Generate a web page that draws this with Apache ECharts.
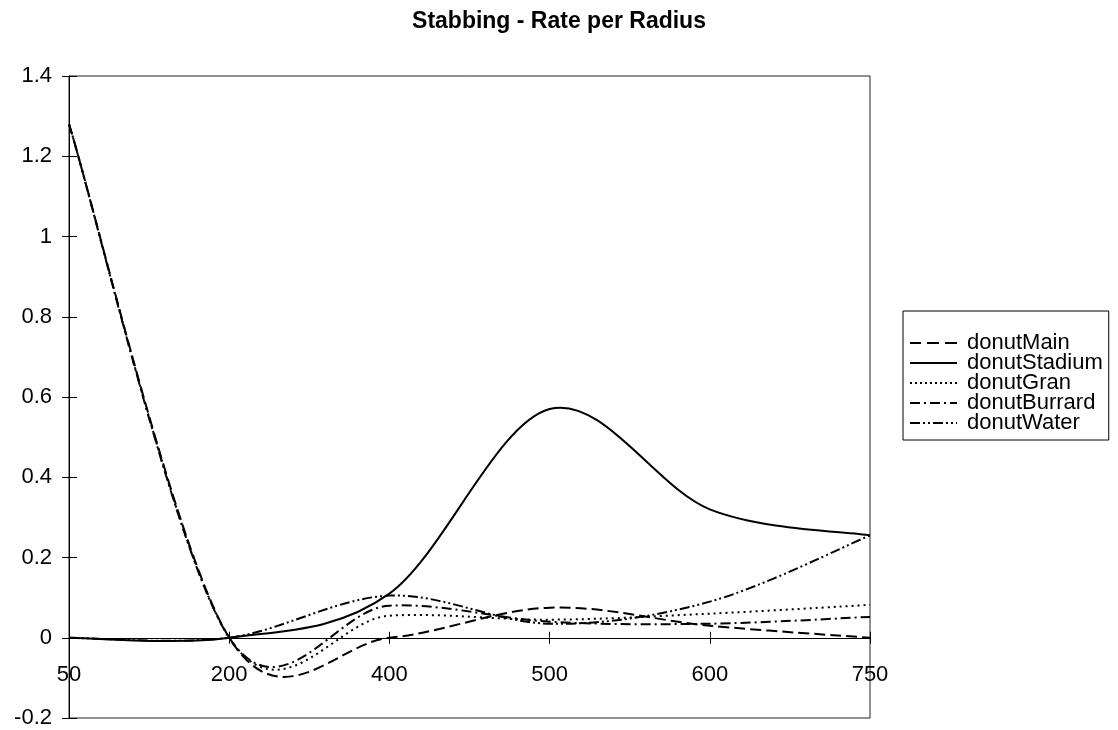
<!DOCTYPE html>
<html>
<head>
<meta charset="utf-8">
<script src="https://cdn.jsdelivr.net/npm/echarts@6/dist/echarts.min.js"></script>
<style>
html,body{margin:0;padding:0;background:#fff;}
#chart{width:1118px;height:730px;}
</style>
</head>
<body>
<div id="chart"></div>
<script>
// Data
const titleText = 'Stabbing - Rate per Radius';
const categories = ['50', '200', '400', '500', '600', '750'];
const donutMain    = [1.28, 0, 0,     0.075, 0.03,  0.0];
const donutStadium = [0,    0, 0.11,  0.57,  0.32,  0.255];
const donutGran    = [1.28, 0, 0.055, 0.045, 0.06,  0.082];
const donutBurrard = [1.28, 0, 0.08,  0.04,  0.035, 0.052];
const donutWater   = [0,    0, 0.105, 0.035, 0.09,  0.255];
const yMin = -0.2, yMax = 1.4, yStep = 0.2;

// line styles (dash patterns) and matching legend icons
const seriesDefs = [
  { name: 'donutMain', data: donutMain, dash: [11, 5],
    icon: 'path://M0,0h11v2h-11z M17,0h12v2h-12z M35,0h12v2h-12z' },
  { name: 'donutStadium', data: donutStadium, dash: null,
    icon: 'path://M0,0h47v2h-47z' },
  { name: 'donutGran', data: donutGran, dash: [2, 4],
    icon: 'path://M0,0h2v2h-2z M5,0h2v2h-2z M10,0h2v2h-2z M15,0h2v2h-2z M20,0h2v2h-2z M25,0h2v2h-2z M30,0h2v2h-2z M35,0h2v2h-2z M40,0h2v2h-2z M45,0h2v2h-2z' },
  { name: 'donutBurrard', data: donutBurrard, dash: [10, 4, 2, 4],
    icon: 'path://M0,0h10v2h-10z M14,0h2v2h-2z M20,0h10v2h-10z M34,0h2v2h-2z M40,0h7v2h-7z' },
  { name: 'donutWater', data: donutWater, dash: [10, 3, 2, 3, 2, 3],
    icon: 'path://M0,0h10v2h-10z M13,0h2v2h-2z M18,0h2v2h-2z M23,0h10v2h-10z M36,0h2v2h-2z M41,0h2v2h-2z M46,0h1v2h-1z' }
];

const font = 'Liberation Sans, Arial, sans-serif';
const chart = echarts.init(document.getElementById('chart'), null, { renderer: 'canvas' });

// Smoothed line like the spreadsheet's: cubic Bezier through the points,
// control points at 1/6 of the neighbour chord, computed in pixel space.
function makeRenderItem(values, dash) {
  return function (params, api) {
    if (params.dataIndex !== 0) return null;
    const pts = values.map((v, i) => api.coord([i, v]));
    const n = pts.length;
    let d = 'M' + pts[0][0] + ',' + pts[0][1];
    for (let i = 0; i < n - 1; i++) {
      const pm = pts[Math.max(i - 1, 0)];
      const p0 = pts[i];
      const p1 = pts[i + 1];
      const pp = pts[Math.min(i + 2, n - 1)];
      const c1x = p0[0] + (p1[0] - pm[0]) / 6;
      const c1y = p0[1] + (p1[1] - pm[1]) / 6;
      const c2x = p1[0] - (pp[0] - p0[0]) / 6;
      const c2y = p1[1] - (pp[1] - p0[1]) / 6;
      d += ' C' + c1x + ',' + c1y + ' ' + c2x + ',' + c2y + ' ' + p1[0] + ',' + p1[1];
    }
    return {
      type: 'path',
      shape: { pathData: d },
      style: { fill: null, stroke: '#000', lineWidth: 2, lineDash: dash || null }
    };
  };
}

const option = {
  backgroundColor: '#ffffff',
  animation: false,
  title: {
    text: titleText,
    left: 'center',
    top: 5,
    textStyle: { fontFamily: font, fontSize: 23, fontWeight: 'bold', color: '#000' }
  },
  legend: {
    orient: 'vertical',
    left: 903,
    top: 311,
    padding: [21, 6, 6, 7],
    borderColor: '#000',
    borderWidth: 1,
    itemWidth: 47,
    itemHeight: 2,
    itemGap: -2,
    textStyle: { fontFamily: font, fontSize: 22, color: '#000', padding: [0, 0, 0, 5] },
    data: seriesDefs.map(s => ({ name: s.name, icon: s.icon }))
  },
  grid: {
    left: 69, right: 248, top: 76, bottom: 12,
    containLabel: false,
    outerBoundsMode: 'none',
    show: true, borderColor: '#222', borderWidth: 1
  },
  xAxis: [
    {
      // category labels, drawn just below the zero line
      type: 'category',
      data: categories,
      boundaryGap: false,
      position: 'bottom',
      axisLine: { show: false, onZero: false },
      axisTick: { show: false },
      axisLabel: { show: true, interval: 0, margin: -54, fontFamily: font, fontSize: 22, color: '#000' },
      splitLine: { show: false }
    },
    {
      // zero line with upward tick halves
      type: 'category',
      data: categories,
      boundaryGap: false,
      position: 'top',
      axisLine: { show: true, onZero: true, onZeroAxisIndex: 0, lineStyle: { color: '#000', width: 1 } },
      axisTick: { show: true, inside: false, length: 6, interval: 0, lineStyle: { color: '#000' } },
      axisLabel: { show: false },
      splitLine: { show: false }
    },
    {
      // zero line with downward tick halves
      type: 'category',
      data: categories,
      boundaryGap: false,
      position: 'bottom',
      axisLine: { show: true, onZero: true, onZeroAxisIndex: 0, lineStyle: { color: '#000', width: 1 } },
      axisTick: { show: true, inside: false, length: 6, interval: 0, lineStyle: { color: '#000' } },
      axisLabel: { show: false },
      splitLine: { show: false }
    }
  ],
  yAxis: [
    {
      type: 'value',
      min: yMin, max: yMax, interval: yStep,
      position: 'left',
      axisLine: { show: true, lineStyle: { color: '#000', width: 1 } },
      axisTick: { show: true, inside: false, length: 7, lineStyle: { color: '#000' } },
      axisLabel: { margin: 17, fontFamily: font, fontSize: 22, color: '#000' },
      splitLine: { show: false }
    },
    {
      type: 'value',
      min: yMin, max: yMax, interval: yStep,
      position: 'left',
      axisLine: { show: false },
      axisTick: { show: true, inside: true, length: 8, lineStyle: { color: '#000' } },
      axisLabel: { show: false },
      splitLine: { show: false }
    }
  ],
  series: seriesDefs.map(s => ({
    name: s.name,
    type: 'custom',
    coordinateSystem: 'cartesian2d',
    xAxisIndex: 0,
    yAxisIndex: 0,
    clip: false,
    itemStyle: { color: '#000' },
    encode: { x: 0, y: 1 },
    data: s.data.map((v, i) => [i, v]),
    renderItem: makeRenderItem(s.data, s.dash)
  }))
};
chart.setOption(option);
</script>
</body>
</html>
